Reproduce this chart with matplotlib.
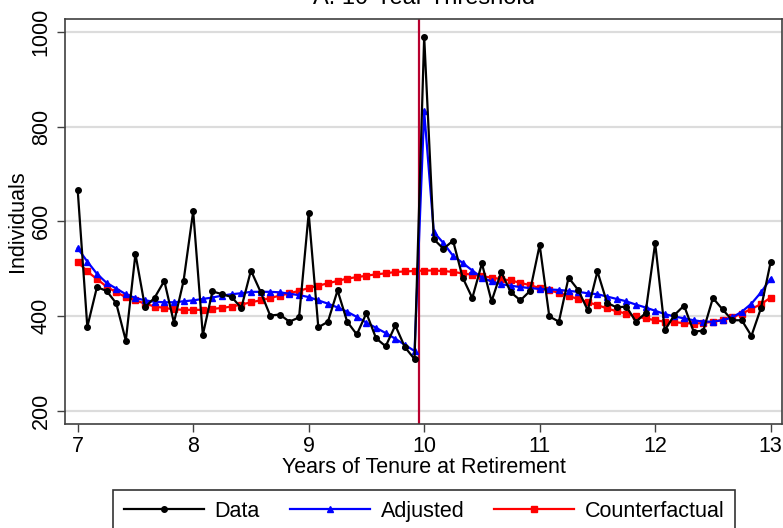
import matplotlib.pyplot as plt
import numpy as np

plt.rcParams['font.family'] = ['Liberation Sans', 'DejaVu Sans']

# tenure in months from 7 to 13 years
tenure = 7 + np.arange(73) / 12

data = [666, 377, 461, 453, 427, 348, 531, 418, 439, 474, 386, 474, 621,
        360, 452, 446, 440, 417, 496, 451, 401, 403, 388, 397, 617,
        376, 388, 454, 388, 361, 406, 353, 336, 380, 334, 309,
        990, 562, 542, 559, 481, 438, 511, 431, 493, 450, 433, 453, 550,
        399, 388, 481, 455, 412, 494, 428, 418, 420, 388, 406, 554,
        370, 402, 422, 367, 369, 438, 414, 391, 391, 358, 417, 514]

adjusted = [543, 515, 489, 470, 458, 446, 438, 433, 430, 429, 429, 431, 433,
            436, 439, 443, 446, 448, 451, 451, 451, 450, 447, 444, 440,
            433, 426, 418, 409, 398, 386, 375, 364, 352, 339, 326,
            832, 577, 554, 527, 512, 496, 481, 473, 467, 464, 461, 459, 457,
            456, 455, 453, 451, 448, 446, 441, 436, 431, 424, 418, 411,
            404, 399, 395, 391, 388, 388, 391, 397, 409, 426, 450, 479]

counterfactual = [514, 494, 478, 462, 450, 440, 433, 426, 420, 417, 414, 413, 413,
                  413, 415, 417, 420, 424, 429, 433, 438, 443, 448, 453, 459,
                  464, 469, 474, 479, 482, 485, 488, 490, 493, 494, 495,
                  496, 496, 495, 493, 490, 487, 484, 481, 478, 475, 470, 465, 459,
                  454, 449, 442, 436, 429, 423, 416, 410, 405, 399, 395, 391,
                  388, 387, 385, 384, 385, 388, 392, 397, 405, 415, 425, 439]

threshold = 10 - 1 / 24
fs = 15.5

fig = plt.figure(figsize=(7.83, 5.28), dpi=100)
ax = fig.add_axes([0.083, 0.197, 0.916, 0.767])

for yv in [200, 400, 600, 800, 1000]:
    ax.axhline(yv, color='#dcdcdc', lw=1.6, zorder=0)

ax.axvline(threshold, color='#b8002e', lw=1.6, zorder=1)

ax.plot(tenure, data, color='black', lw=1.6, marker='o', ms=4, label='Data', zorder=4)
ax.plot(tenure, adjusted, color='blue', lw=1.6, marker='^', ms=5, label='Adjusted', zorder=3)
ax.plot(tenure, counterfactual, color='red', lw=1.6, marker='s', ms=5, label='Counterfactual', zorder=2)

ax.set_xlim(6.89, 13.1)
ax.set_ylim(172, 1027)
ax.set_xticks(range(7, 14))
ax.set_yticks([200, 400, 600, 800, 1000])
ax.tick_params(axis='both', labelsize=fs, length=6, width=1, color='#404040')
ax.tick_params(axis='x', pad=3)
for lbl in ax.get_yticklabels():
    lbl.set_rotation(90)
    lbl.set_va('center')
for sp in ax.spines.values():
    sp.set_color('#404040')
    sp.set_linewidth(1.2)

ax.set_xlabel('Years of Tenure at Retirement', fontsize=fs, labelpad=0)
ax.set_ylabel('Individuals', fontsize=fs, labelpad=2)

fig.text(0.542, 1 - 4 / 528, 'A. 10-Year Threshold', ha='center', va='baseline', fontsize=17)

leg = fig.legend(loc='upper center', bbox_to_anchor=(0.542, 0.072), ncol=3,
                 fontsize=fs, frameon=True, fancybox=False, edgecolor='black',
                 handlelength=3.7, handletextpad=0.5, columnspacing=1.4,
                 borderpad=0.5, borderaxespad=0)
leg.get_frame().set_linewidth(1.2)

fig.savefig('out.png', dpi=100)
